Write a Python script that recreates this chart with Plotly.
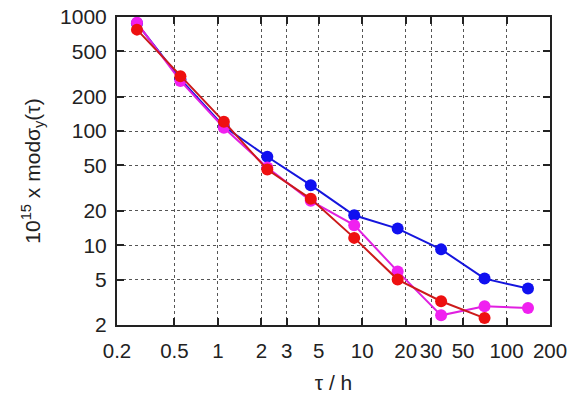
import plotly.graph_objects as go
import math

tau = [0.275, 0.55, 1.1, 2.2, 4.4, 8.8, 17.6, 35.2, 70.4, 140.8]
blue_vals = [880, 285, 110, 59.6, 33.6, 18.3, 14.0, 9.2, 5.1, 4.17]
magenta_vals = [890, 275, 107, 48, 24.5, 15.0, 5.9, 2.43, 2.92, 2.82]
red_tau = [0.275, 0.55, 1.1, 2.2, 4.4, 8.8, 17.6, 35.2, 70.4]
red_vals = [775, 303, 121, 46, 25.5, 11.6, 5.0, 3.23, 2.30]

x_ticks = [0.2, 0.5, 1, 2, 3, 5, 10, 20, 30, 50, 100, 200]
x_ticktext = ["0.2", "0.5", "1", "2", "3", "5", "10", "20", "30", "50", "100", "200"]
y_ticks = [2, 5, 10, 20, 50, 100, 200, 500, 1000]
y_ticktext = ["2", "5", "10", "20", "50", "100", "200", "500", "1000"]

fig = go.Figure()
series = [
    (tau, blue_vals, "#1515dd", "#1010f0"),
    (tau, magenta_vals, "#e020e0", "#f020f0"),
    (red_tau, red_vals, "#cc1a1a", "#ee1010"),
]
for xs, ys, lc, mc in series:
    fig.add_trace(go.Scatter(x=xs, y=ys, mode="lines+markers",
                             line=dict(color=lc, width=2),
                             marker=dict(color=mc, size=12),
                             showlegend=False))

font = "Liberation Sans, Arial, sans-serif"
fig.update_layout(
    width=574, height=394,
    margin=dict(l=117, r=24, t=17, b=69),
    paper_bgcolor="white", plot_bgcolor="white",
    font=dict(family=font, size=21, color="#222"),
)
fig.update_xaxes(type="log", range=[math.log10(0.2), math.log10(200)],
                 tickvals=x_ticks, ticktext=x_ticktext, tickangle=0,
                 automargin=False,
                 tickfont=dict(size=20.5), ticklabelstandoff=6,
                 ticks="inside", ticklen=7, tickwidth=2, tickcolor="#222",
                 showline=True, linecolor="#222", linewidth=2, mirror="ticks",
                 showgrid=True, gridcolor="#555", gridwidth=1.2, griddash="dot",
                 zeroline=False,
                 title=dict(text="τ / h", font=dict(size=21), standoff=18))
fig.update_yaxes(type="log", range=[math.log10(2), 3],
                 tickvals=y_ticks, ticktext=y_ticktext,
                 automargin=False,
                 tickfont=dict(size=21), ticklabelstandoff=4,
                 ticks="inside", ticklen=7, tickwidth=2, tickcolor="#222",
                 showline=True, linecolor="#222", linewidth=2, mirror="ticks",
                 showgrid=True, gridcolor="#555", gridwidth=1.2, griddash="dot",
                 zeroline=False,
                 title=dict(text="10<sup>15</sup> x modσ<sub>y</sub>(τ)", font=dict(size=21), standoff=14))

fig.write_html("out.html")
